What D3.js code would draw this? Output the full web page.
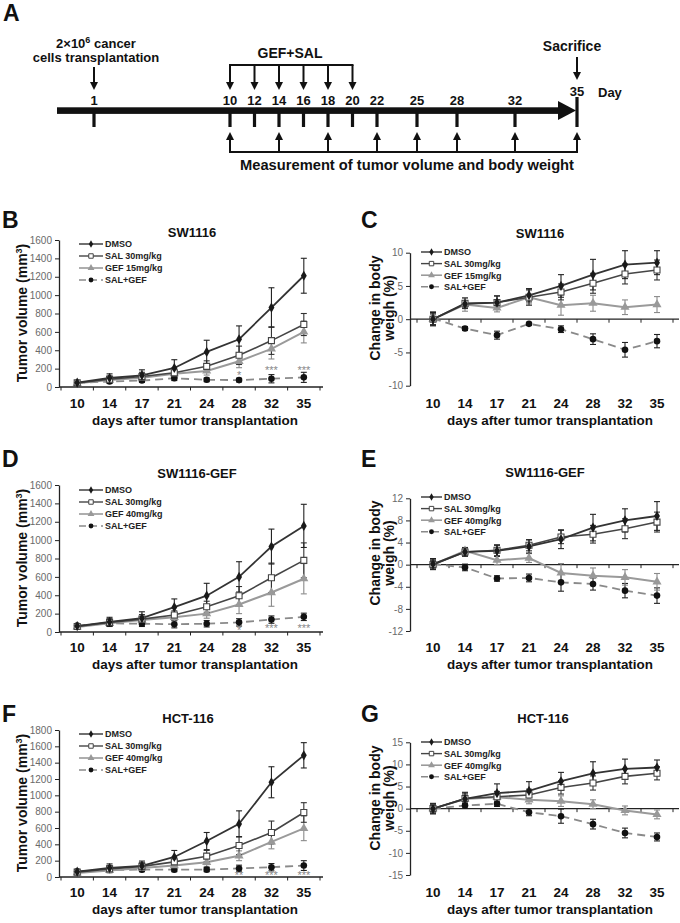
<!DOCTYPE html>
<html><head><meta charset="utf-8">
<script src="https://cdn.jsdelivr.net/npm/d3@7"></script>
<style>
body{margin:0;background:#fff}
svg{display:block}
text{font-family:"Liberation Sans",Arial,Helvetica,sans-serif}
</style>
</head><body>
<svg id="c" width="680" height="923"></svg>
<script>
// ---------------- DATA ----------------
const days = [10, 14, 17, 21, 24, 28, 32, 35];
const seriesKeys = ["DMSO", "SAL", "GEF", "SALGEF"];
const legendNames15 = ["DMSO", "SAL 30mg/kg", "GEF 15mg/kg", "SAL+GEF"];
const legendNames40 = ["DMSO", "SAL 30mg/kg", "GEF 40mg/kg", "SAL+GEF"];

// Panel A timeline
const timelineDays = [1, 10, 12, 14, 16, 18, 20, 22, 25, 28, 32, 35];
const treatmentDays = [10, 12, 14, 16, 18, 20];
const measurementDays = [10, 14, 18, 22, 25, 28, 32, 35];

// B: SW1116 tumor volume (mm3)
const bDMSO = [47, 98, 127, 207, 382, 520, 865, 1211];
const bDMSOErr = [15, 45, 60, 90, 127, 145, 215, 190];
const bSAL = [45, 85, 115, 155, 225, 345, 505, 680];
const bSALErr = [15, 35, 45, 50, 60, 100, 150, 120];
const bGEF = [40, 75, 100, 145, 175, 280, 415, 600];
const bGEFErr = [10, 25, 35, 40, 45, 70, 110, 120];
const bSALGEF = [45, 60, 70, 95, 78, 75, 90, 105];
const bSALGEFErr = [12, 20, 20, 25, 20, 20, 45, 55];
const bStarDays = [28, 32, 35];
const bStarText = ["*", "***", "***"];
const bStarVal = [85, 140, 140];

// C: SW1116 body weight change (%)
const cDMSO = [0, 2.3, 2.5, 3.6, 5.0, 6.7, 8.2, 8.5];
const cDMSOErr = [1.0, 0.5, 1.0, 1.0, 1.7, 2.3, 2.1, 1.8];
const cSAL = [0, 2.4, 2.5, 3.3, 4.1, 5.4, 6.8, 7.4];
const cSALErr = [0.8, 0.8, 1.0, 1.2, 1.2, 1.5, 1.5, 1.5];
const cGEF = [0, 2.2, 1.7, 3.3, 2.1, 2.4, 1.8, 2.2];
const cGEFErr = [0.8, 1.0, 0.6, 1.0, 1.5, 1.2, 1.1, 1.2];
const cSALGEF = [0.1, -1.4, -2.4, -0.7, -1.5, -3.0, -4.6, -3.3];
const cSALGEFErr = [1.0, 0.3, 0.6, 0.2, 0.5, 0.8, 1.1, 1.0];

// D: SW1116-GEF tumor volume
const dDMSO = [65, 110, 150, 270, 395, 600, 930, 1155];
const dDMSOErr = [15, 50, 70, 90, 135, 165, 190, 235];
const dSAL = [60, 105, 140, 185, 275, 395, 590, 780];
const dSALErr = [15, 40, 50, 45, 60, 100, 160, 190];
const dGEF = [55, 95, 130, 160, 200, 300, 430, 580];
const dGEFErr = [10, 30, 40, 40, 50, 100, 150, 165];
const dSALGEF = [70, 95, 90, 85, 90, 105, 135, 165];
const dSALGEFErr = [15, 25, 30, 40, 35, 40, 40, 40];
const dStarDays = [28, 32, 35];
const dStarText = ["*", "***", "***"];
const dStarVal = [-25, 0, 5];

// E: SW1116-GEF body weight change
const eDMSO = [0.1, 2.3, 2.5, 3.3, 4.6, 6.7, 8.0, 8.8];
const eDMSOErr = [1.0, 0.7, 1.0, 1.2, 1.7, 2.4, 2.1, 2.6];
const eSAL = [0, 2.3, 2.6, 3.5, 5.0, 5.5, 6.5, 7.7];
const eSALErr = [0.8, 0.8, 1.0, 1.0, 1.2, 1.6, 1.8, 1.8];
const eGEF = [0, 2.5, 0.8, 1.2, -1.5, -2.0, -2.3, -3.1];
const eGEFErr = [0.8, 0.6, 0.8, 0.8, 1.7, 1.4, 1.4, 1.5];
const eSALGEF = [0.1, -0.5, -2.5, -2.4, -3.2, -3.5, -4.7, -5.6];
const eSALGEFErr = [0.9, 0.6, 0.5, 0.7, 1.6, 1.1, 1.3, 1.4];

// F: HCT-116 tumor volume
const fDMSO = [65, 110, 135, 245, 440, 650, 1160, 1490];
const fDMSOErr = [15, 50, 60, 80, 105, 160, 190, 155];
const fSAL = [60, 100, 130, 185, 255, 385, 545, 790];
const fSALErr = [15, 40, 45, 50, 70, 110, 140, 120];
const fGEF = [50, 80, 110, 140, 180, 260, 430, 595];
const fGEFErr = [10, 30, 35, 40, 50, 60, 85, 150];
const fSALGEF = [70, 85, 90, 90, 90, 105, 120, 140];
const fSALGEFErr = [15, 25, 25, 25, 25, 40, 45, 60];
const fStarDays = [28, 32, 35];
const fStarText = ["**", "***", "***"];
const fStarVal = [-25, -25, -25];

// G: HCT-116 body weight change
const gDMSO = [0, 2.2, 3.5, 4.0, 6.2, 8.0, 9.0, 9.3];
const gDMSOErr = [1.2, 1.5, 2.1, 2.1, 2.0, 2.6, 2.2, 1.7];
const gSAL = [0, 2.3, 2.7, 3.1, 4.8, 5.8, 7.3, 8.0];
const gSALErr = [1.0, 1.2, 1.2, 1.3, 1.5, 1.6, 1.7, 1.5];
const gGEF = [0, 2.2, 2.6, 2.0, 1.7, 1.0, -0.4, -1.3];
const gGEFErr = [1.0, 1.0, 1.0, 0.9, 1.2, 1.0, 1.0, 1.0];
const gSALGEF = [0, 0.7, 1.1, -0.8, -1.7, -3.5, -5.5, -6.4];
const gSALGEFErr = [1.0, 0.6, 0.6, 0.8, 1.6, 1.1, 1.1, 0.9];

const volTicks1600 = [0, 200, 400, 600, 800, 1000, 1200, 1400, 1600];
const volTicks1800 = [0, 200, 400, 600, 800, 1000, 1200, 1400, 1600, 1800];
const bwTicks10 = [-10, -5, 0, 5, 10];
const bwTicks12 = [-12, -8, -4, 0, 4, 8, 12];
const bwTicks15 = [-15, -10, -5, 0, 5, 10, 15];

// ---------------- STYLES ----------------
const style = {
  DMSO:   {stroke: "#333", width: 1.8, dash: null,  sym: d3.symbolDiamond,  size: 30, fill: "#1a1a1a", mstroke: "none", err: "#222"},
  SAL:    {stroke: "#454545", width: 1.6, dash: null, sym: d3.symbolSquare, size: 36, fill: "#fff", mstroke: "#444", err: "#333"},
  GEF:    {stroke: "#9a9a9a", width: 2.0, dash: null, sym: d3.symbolTriangle, size: 36, fill: "#999", mstroke: "none", err: "#8a8a8a"},
  SALGEF: {stroke: "#8a8a8a", width: 1.8, dash: "8,5", sym: d3.symbolCircle, size: 34, fill: "#111", mstroke: "none", err: "#222"}
};
const legendMarkerScale = 0.55;

const svg = d3.select("#c");

// ---------------- PANEL A ----------------
(function drawA() {
  const g = svg.append("g");
  const tx = d3.scaleLinear().domain([1, 10, 22, 28, 32, 35]).range([94, 230, 377, 457, 515, 577]);
  const ink = "#111";
  g.append("text").attr("x", 3).attr("y", 21).text("A")
    .style("font-size", "23px").style("font-weight", "bold").attr("fill", ink);

  function downArrow(x, y1, y2) {
    g.append("line").attr("x1", x).attr("x2", x).attr("y1", y1).attr("y2", y2 - 6)
      .attr("stroke", ink).attr("stroke-width", 2);
    g.append("path").attr("d", `M${x - 4},${y2 - 8} L${x + 4},${y2 - 8} L${x},${y2} Z`).attr("fill", ink);
  }
  function upArrow(x, y1, y2) {
    g.append("line").attr("x1", x).attr("x2", x).attr("y1", y1).attr("y2", y2 + 6)
      .attr("stroke", ink).attr("stroke-width", 2);
    g.append("path").attr("d", `M${x - 4},${y2 + 8} L${x + 4},${y2 + 8} L${x},${y2} Z`).attr("fill", ink);
  }

  // main arrow
  const endX = tx(35);
  g.append("rect").attr("x", 57).attr("y", 107.3).attr("width", endX - 18 - 57).attr("height", 6.6).attr("fill", ink);
  g.append("path").attr("d", `M${endX - 19},101 L${endX - 1},110.5 L${endX - 19},120 Z`).attr("fill", ink);

  // ticks and labels
  timelineDays.forEach(d => {
    const x = tx(d);
    const top = d === 35 ? 97 : 113;
    g.append("rect").attr("x", x - 1.6).attr("y", top).attr("width", 3.2).attr("height", 127 - top).attr("fill", ink);
    g.append("text").attr("x", x).attr("y", d === 35 ? 96 : 105).attr("text-anchor", "middle")
      .style("font-size", "13px").style("font-weight", "bold").attr("fill", ink).text(d);
  });
  g.append("text").attr("x", 598).attr("y", 97).style("font-size", "13px").style("font-weight", "bold")
    .attr("fill", ink).text("Day");

  // transplantation
  const t1 = g.append("text").attr("x", 96).attr("y", 48).attr("text-anchor", "middle")
    .style("font-size", "13px").style("font-weight", "bold").attr("fill", ink);
  t1.append("tspan").text("2\u00D710");
  t1.append("tspan").attr("dy", -5).style("font-size", "9px").text("6");
  t1.append("tspan").attr("dy", 5).text(" cancer");
  g.append("text").attr("x", 96).attr("y", 62).attr("text-anchor", "middle")
    .style("font-size", "13px").style("font-weight", "bold").attr("fill", ink).text("cells transplantation");
  downArrow(tx(1), 67, 90);

  // treatment bracket
  g.append("text").attr("x", 290).attr("y", 58).attr("text-anchor", "middle")
    .style("font-size", "14px").style("font-weight", "bold").attr("fill", ink).text("GEF+SAL");
  g.append("line").attr("x1", tx(10) - 1).attr("x2", tx(20) + 1).attr("y1", 65).attr("y2", 65)
    .attr("stroke", ink).attr("stroke-width", 2.2);
  treatmentDays.forEach(d => downArrow(tx(d), 65, 90));

  // sacrifice
  g.append("text").attr("x", 572).attr("y", 51).attr("text-anchor", "middle")
    .style("font-size", "14px").style("font-weight", "bold").attr("fill", ink).text("Sacrifice");
  downArrow(tx(35), 57, 80);

  // measurement bracket
  g.append("line").attr("x1", tx(10) - 1).attr("x2", tx(35) + 1).attr("y1", 152).attr("y2", 152)
    .attr("stroke", ink).attr("stroke-width", 2.2);
  measurementDays.forEach(d => upArrow(tx(d), 152, 132));
  g.append("text").attr("x", 407).attr("y", 170).attr("text-anchor", "middle")
    .attr("textLength", 334).attr("lengthAdjust", "spacingAndGlyphs")
    .style("font-size", "14px").style("font-weight", "bold").attr("fill", ink)
    .text("Measurement of tumor volume and body weight");
})();

// ---------------- LINE PANELS ----------------
function drawPanel(p) {
  const g = svg.append("g");
  const x = d3.scalePoint().domain(days).range(p.xRange).padding(0.5);
  const step = x.step();
  const y = d3.scaleLinear().domain(p.yDomain).range(p.yRange);

  // letter & title
  g.append("text").attr("x", p.letter[0]).attr("y", p.letter[1]).text(p.letterText)
    .style("font-size", "23px").style("font-weight", "bold").attr("fill", "#111");
  g.append("text").attr("x", p.title[0]).attr("y", p.title[1]).attr("text-anchor", "middle")
    .style("font-size", "13px").style("font-weight", "bold").attr("fill", "#111").text(p.titleText);

  // y axis
  const ya = g.append("g").attr("transform", `translate(${p.axisX},0)`)
    .call(d3.axisLeft(y).tickValues(p.yTicks).tickSize(4).tickSizeOuter(0).tickPadding(3).tickFormat(d => String(d)));
  ya.select(".domain").attr("stroke", "#222").attr("stroke-width", 1.3);
  ya.selectAll(".tick line").attr("stroke", "#222").attr("stroke-width", 1);
  ya.selectAll(".tick text").attr("fill", "#6a6a6a").style("font-size", "10px")
    .style("font-family", '"Liberation Sans",Arial,sans-serif');

  // x axis line at y=0
  const y0 = y(0);
  g.append("line").attr("x1", p.axisX).attr("x2", p.xEnd).attr("y1", y0).attr("y2", y0)
    .attr("stroke", "#222").attr("stroke-width", 1.3);
  const bounds = days.map(d => x(d) - step / 2).concat([x(days[days.length - 1]) + step / 2]);
  g.selectAll(".xt").data(bounds).enter().append("line")
    .attr("x1", d => d).attr("x2", d => d).attr("y1", y0).attr("y2", y0 + 3.5)
    .attr("stroke", "#222").attr("stroke-width", 1);
  g.selectAll(".xl").data(days).enter().append("text")
    .attr("x", d => x(d)).attr("y", p.xLabelY).attr("text-anchor", "middle")
    .style("font-size", "13.5px").style("font-weight", "bold").attr("fill", "#111").text(d => d);
  g.append("text").attr("x", p.xTitle[0]).attr("y", p.xTitle[1]).attr("text-anchor", "middle")
    .attr("textLength", 206).attr("lengthAdjust", "spacingAndGlyphs")
    .style("font-size", "13.5px").style("font-weight", "bold").attr("fill", "#111")
    .text("days after tumor transplantation");

  // y title
  p.yTitle.forEach((t, i) => {
    const tt = g.append("text").attr("transform", `translate(${t.x},${t.y}) rotate(-90)`)
      .attr("text-anchor", "middle").style("font-size", "14px").style("font-weight", "bold").attr("fill", "#111");
    if (t.sup) {
      tt.append("tspan").text(t.text);
      tt.append("tspan").attr("dy", -5).style("font-size", "9px").text(t.sup);
      tt.append("tspan").attr("dy", 5).text(")");
    } else {
      tt.text(t.text);
    }
  });

  // series
  const drawOrder = ["SALGEF", "GEF", "SAL", "DMSO"];
  const line = d3.line().x(d => x(d.day)).y(d => y(d.v));
  const pts = k => days.map((d, i) => ({day: d, v: p.vals[k][i], e: p.errs[k][i]}));
  drawOrder.forEach(k => {
    const s = style[k];
    g.append("path").datum(pts(k)).attr("d", line).attr("fill", "none")
      .attr("stroke", s.stroke).attr("stroke-width", s.width).attr("stroke-dasharray", s.dash);
  });
  drawOrder.forEach(k => {
    const s = style[k];
    const eg = g.append("g").attr("stroke", s.err).attr("stroke-width", 1.1);
    pts(k).forEach(d => {
      const cx = x(d.day);
      eg.append("line").attr("x1", cx).attr("x2", cx).attr("y1", y(d.v - d.e)).attr("y2", y(d.v + d.e));
      [d.v - d.e, d.v + d.e].forEach(v => {
        eg.append("line").attr("x1", cx - 3).attr("x2", cx + 3).attr("y1", y(v)).attr("y2", y(v));
      });
    });
  });
  drawOrder.forEach(k => {
    const s = style[k];
    g.selectAll(null).data(pts(k)).enter().append("path")
      .attr("transform", d => `translate(${x(d.day)},${y(d.v)})`)
      .attr("d", d3.symbol().type(s.sym).size(s.size))
      .attr("fill", s.fill).attr("stroke", s.mstroke).attr("stroke-width", 1.1);
  });

  // stars
  if (p.stars) {
    p.stars.days.forEach((d, i) => {
      g.append("text").attr("x", x(d)).attr("y", y(p.stars.vals[i])).attr("text-anchor", "middle")
        .style("font-size", "11px").attr("fill", "#888").text(p.stars.text[i]);
    });
  }

  // legend
  const lg = g.append("g").attr("transform", `translate(${p.legend[0]},${p.legend[1]})`);
  seriesKeys.forEach((k, i) => {
    const s = style[k];
    const yy = i * p.legendDy;
    lg.append("line").attr("x1", 0).attr("x2", p.legendW).attr("y1", yy).attr("y2", yy)
      .attr("stroke", s.stroke).attr("stroke-width", k === "GEF" ? 1.6 : 1.4)
      .attr("stroke-dasharray", k === "SALGEF" ? "7,4" : null);
    lg.append("path").attr("transform", `translate(${p.legendW / 2},${yy})`)
      .attr("d", d3.symbol().type(s.sym).size(s.size * legendMarkerScale))
      .attr("fill", s.fill).attr("stroke", s.mstroke).attr("stroke-width", 1);
    lg.append("text").attr("x", p.legendW + 2).attr("y", yy + 3.3)
      .style("font-size", "9px").style("font-weight", "bold").attr("fill", "#222").text(p.names[i]);
  });
}

const leftCommon = {axisX: 59, xRange: [61, 320], xEnd: 323, legendW: 24, legendDy: 12};
const rightCommon = {axisX: 410, xRange: [417, 673], xEnd: 679, legendW: 21, legendDy: 11.6};

function leftPanel(o) { return Object.assign({}, leftCommon, o); }
function rightPanel(o) { return Object.assign({}, rightCommon, o); }

drawPanel(leftPanel({
  letterText: "B", letter: [2, 228], titleText: "SW1116", title: [192, 237],
  yDomain: [0, 1600], yRange: [387, 240], yTicks: volTicks1600,
  xLabelY: 408, xTitle: [195, 425],
  yTitle: [{x: 27, y: 313, text: "Tumor volume (mm", sup: "3"}],
  legend: [79, 244], names: legendNames15,
  vals: {DMSO: bDMSO, SAL: bSAL, GEF: bGEF, SALGEF: bSALGEF},
  errs: {DMSO: bDMSOErr, SAL: bSALErr, GEF: bGEFErr, SALGEF: bSALGEFErr},
  stars: {days: bStarDays, text: bStarText, vals: bStarVal}
}));
drawPanel(rightPanel({
  letterText: "C", letter: [361, 228], titleText: "SW1116", title: [540, 238],
  yDomain: [-10, 10], yRange: [385.7, 252.7], yTicks: bwTicks10,
  xLabelY: 408, xTitle: [550, 425],
  yTitle: [{x: 380, y: 308, text: "Change in body"}, {x: 394, y: 308, text: "weigh (%)"}],
  legend: [421, 252], names: legendNames15,
  vals: {DMSO: cDMSO, SAL: cSAL, GEF: cGEF, SALGEF: cSALGEF},
  errs: {DMSO: cDMSOErr, SAL: cSALErr, GEF: cGEFErr, SALGEF: cSALGEFErr}
}));
drawPanel(leftPanel({
  letterText: "D", letter: [2, 467], titleText: "SW1116-GEF", title: [197, 478],
  yDomain: [0, 1600], yRange: [632, 485], yTicks: volTicks1600,
  xLabelY: 652, xTitle: [195, 669],
  yTitle: [{x: 27, y: 558, text: "Tumor volume (mm", sup: "3"}],
  legend: [79, 490], names: legendNames40,
  vals: {DMSO: dDMSO, SAL: dSAL, GEF: dGEF, SALGEF: dSALGEF},
  errs: {DMSO: dDMSOErr, SAL: dSALErr, GEF: dGEFErr, SALGEF: dSALGEFErr},
  stars: {days: dStarDays, text: dStarText, vals: dStarVal}
}));
drawPanel(rightPanel({
  letterText: "E", letter: [361, 467], titleText: "SW1116-GEF", title: [545, 477],
  yDomain: [-12, 12], yRange: [631, 498.3], yTicks: bwTicks12,
  xLabelY: 652, xTitle: [550, 669],
  yTitle: [{x: 380, y: 553, text: "Change in body"}, {x: 394, y: 553, text: "weigh (%)"}],
  legend: [421, 497], names: legendNames40,
  vals: {DMSO: eDMSO, SAL: eSAL, GEF: eGEF, SALGEF: eSALGEF},
  errs: {DMSO: eDMSOErr, SAL: eSALErr, GEF: eGEFErr, SALGEF: eSALGEFErr}
}));
drawPanel(leftPanel({
  letterText: "F", letter: [2, 722], titleText: "HCT-116", title: [188, 723],
  yDomain: [0, 1800], yRange: [877, 730], yTicks: volTicks1800,
  xLabelY: 897, xTitle: [195, 914],
  yTitle: [{x: 27, y: 803, text: "Tumor volume (mm", sup: "3"}],
  legend: [79, 734], names: legendNames40,
  vals: {DMSO: fDMSO, SAL: fSAL, GEF: fGEF, SALGEF: fSALGEF},
  errs: {DMSO: fDMSOErr, SAL: fSALErr, GEF: fGEFErr, SALGEF: fSALGEFErr},
  stars: {days: fStarDays, text: fStarText, vals: fStarVal}
}));
drawPanel(rightPanel({
  letterText: "G", letter: [361, 722], titleText: "HCT-116", title: [543, 723],
  yDomain: [-15, 15], yRange: [875, 742.3], yTicks: bwTicks15,
  xLabelY: 897, xTitle: [550, 914],
  yTitle: [{x: 380, y: 798, text: "Change in body"}, {x: 394, y: 798, text: "weigh (%)"}],
  legend: [421, 742], names: legendNames40,
  vals: {DMSO: gDMSO, SAL: gSAL, GEF: gGEF, SALGEF: gSALGEF},
  errs: {DMSO: gDMSOErr, SAL: gSALErr, GEF: gGEFErr, SALGEF: gSALGEFErr}
}));
</script>
</body></html>
